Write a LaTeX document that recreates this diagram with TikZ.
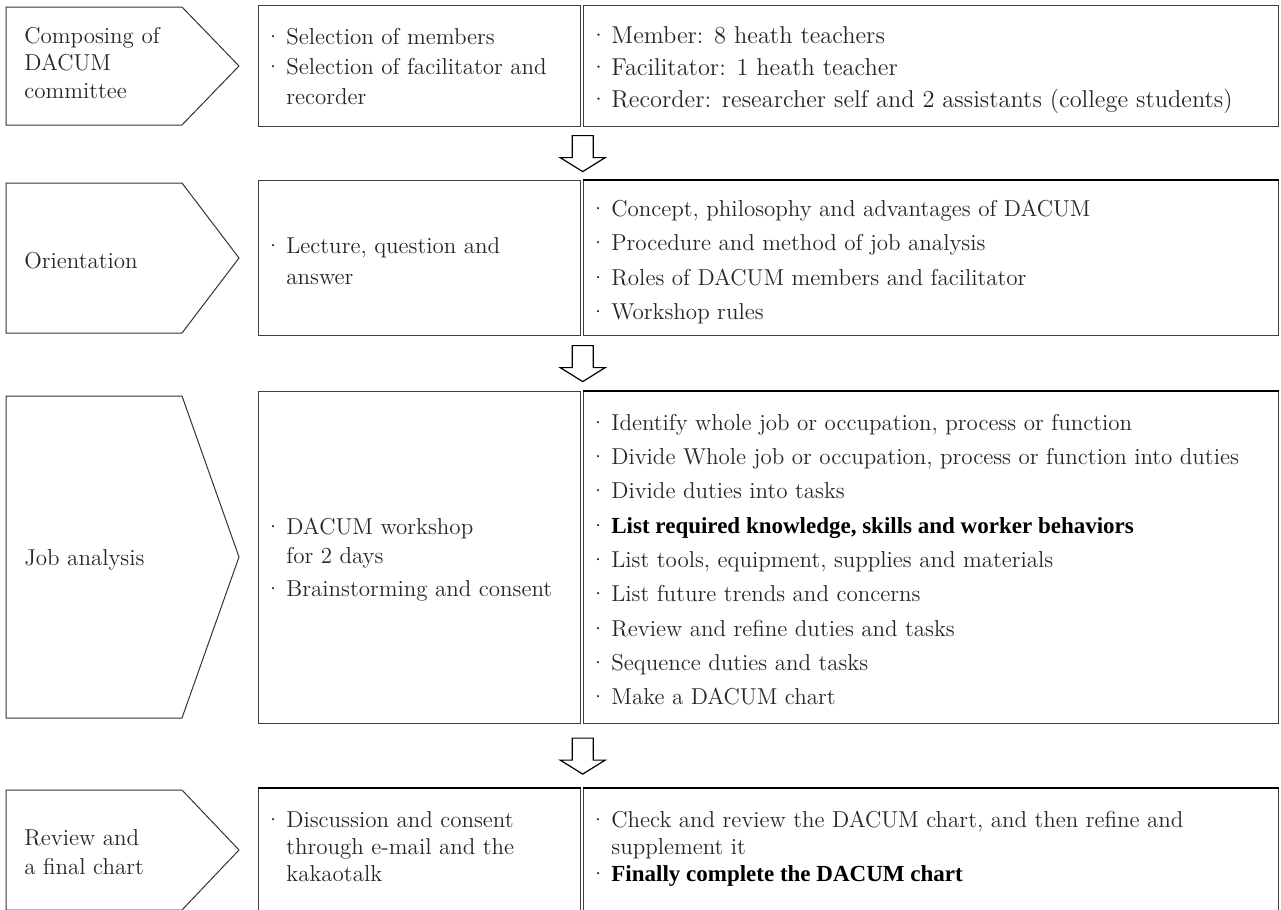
\documentclass[tikz,border=0pt]{standalone}
\usepackage{fontspec}
\newfontfamily\darkfont{Liberation Serif}
\usetikzlibrary{calc,positioning}

\newcommand{\bul}{\makebox[11pt][l]{\textperiodcentered}}
\newcommand{\ind}{\hspace*{11pt}}
\newcommand{\keyline}[1]{{\darkfont\bfseries\color{black}#1}}

\tikzset{
  downblock/.pic={
    \draw[blockarrow] (-10.5,-18) -- (10.5,-18) -- (10.5,4) -- (22.5,4)
      -- (0,18) -- (-22.5,4) -- (-10.5,4) -- cycle;
  }
}

\begin{document}
\begin{tikzpicture}[x=0.5pt,y=-0.5pt,
  frame/.style={draw=black!75, line width=0.6pt, inner sep=0pt, anchor=north west},
  topedge/.style={draw=black, line width=0.9pt},
  stepline/.style={draw=black!80, line width=0.5pt},
  txt/.style={anchor=west, align=left, inner sep=0pt, text=black!85,
    font=\fontsize{11.5}{14.5}\selectfont},
  blockarrow/.style={draw=black, line width=0.6pt, fill=white}]

\useasboundingbox (0,0) rectangle (1281,910);

% Steps
\draw[stepline] (6,7) -- (182,7) -- (239,66) -- (182,125) -- (6,125) -- cycle;
\node[txt, font=\fontsize{11.5}{13.75}\selectfont] (step1) at (24,63) {Composing of\\DACUM\\committee};
\draw[stepline] (6,183) -- (182,183) -- (239,258) -- (182,333) -- (6,333) -- cycle;
\node[txt] (step2) at (24,261) {Orientation};
\draw[stepline] (6,396) -- (182,396) -- (239,557) -- (182,718) -- (6,718) -- cycle;
\node[txt] (step3) at (24,560) {Job analysis};
\draw[stepline] (6,790) -- (182,790) -- (239,850) -- (182,910) -- (6,910) -- cycle;
\node[txt] (step4) at (24,852) {Review and\\a final chart};

% Boxes
\node[frame, minimum width=161pt, minimum height=60.5pt] (mid1) at (258,5) {};
\node[frame, minimum width=347.5pt, minimum height=60.5pt] (right1) at (583,5) {};
\node[frame, minimum width=161pt, minimum height=77.5pt] (mid2) at (258,180) {};
\node[frame, minimum width=347.5pt, minimum height=77.5pt] (right2) at (583,180) {};
\node[frame, minimum width=161pt, minimum height=166pt] (mid3) at (258,391) {};
\node[frame, minimum width=347.5pt, minimum height=166pt] (right3) at (583,391) {};
\node[frame, minimum width=161pt, minimum height=66pt] (mid4) at (258,788) {};
\node[frame, minimum width=347.5pt, minimum height=66pt] (right4) at (583,788) {};
\draw[topedge] (right2.north west) -- (right2.north east);
\draw[topedge] (right3.north west) -- (right3.north east);
\draw[topedge] (mid4.north west) -- (mid4.north east);
\draw[topedge] (right4.north west) -- (right4.north east);

% Texts
\node[txt, font=\fontsize{11.5}{15}\selectfont] (work1) at ($(mid1.west)+(6,0)$)
  {\bul Selection of members\\\bul Selection of facilitator and\\\ind recorder};
\node[txt, font=\fontsize{12.2}{16}\selectfont] (detail1) at ($(right1.west)+(6,4)$)
  {\bul Member: 8 heath teachers\\\bul Facilitator: 1 heath teacher\\
   \bul Recorder: researcher self and 2 assistants (college students)};
\node[txt, font=\fontsize{11.5}{15.5}\selectfont] (work2) at ($(mid2.west)+(6,3)$)
  {\bul Lecture, question and\\\ind answer};
\node[txt, font=\fontsize{11.5}{17.2}\selectfont] (detail2) at ($(right2.west)+(6,4)$)
  {\bul Concept, philosophy and advantages of DACUM\\
   \bul Procedure and method of job analysis\\
   \bul Roles of DACUM members and facilitator\\
   \bul Workshop rules};
\node[txt, font=\fontsize{11.5}{14.5}\selectfont] (work3) at ($(mid3.west)+(6,2)$)
  {\bul DACUM workshop\\\ind for 2 days\\[2pt]\bul Brainstorming and consent};
\node[txt, font=\fontsize{11.5}{17.15}\selectfont] (detail3) at ($(right3.west)+(6,2)$)
  {\bul Identify whole job or occupation, process or function\\
   \bul Divide Whole job or occupation, process or function into duties\\
   \bul Divide duties into tasks\\
   \bul \keyline{List required knowledge, skills and worker behaviors}\\
   \bul List tools, equipment, supplies and materials\\
   \bul List future trends and concerns\\
   \bul Review and refine duties and tasks\\
   \bul Sequence duties and tasks\\
   \bul Make a DACUM chart};
\node[txt, font=\fontsize{11.5}{13.5}\selectfont] (work4) at ($(mid4.west)+(6,-8)$)
  {\bul Discussion and consent\\\ind through e-mail and the\\\ind kakaotalk};
\node[txt, font=\fontsize{11.5}{13.5}\selectfont] (detail4) at ($(right4.west)+(6,-6)$)
  {\bul Check and review the DACUM chart, and then refine and\\
   \ind supplement it\\
   \bul \keyline{Finally complete the DACUM chart}};

% Arrows between rows
\pic at ($(mid1.south east)!0.5!(mid2.north east)+(1.5,0)$) {downblock};
\pic at ($(mid2.south east)!0.5!(mid3.north east)+(1.5,0)$) {downblock};
\pic at ($(mid3.south east)!0.5!(mid4.north east)+(1.5,0)$) {downblock};

\end{tikzpicture}
\end{document}
